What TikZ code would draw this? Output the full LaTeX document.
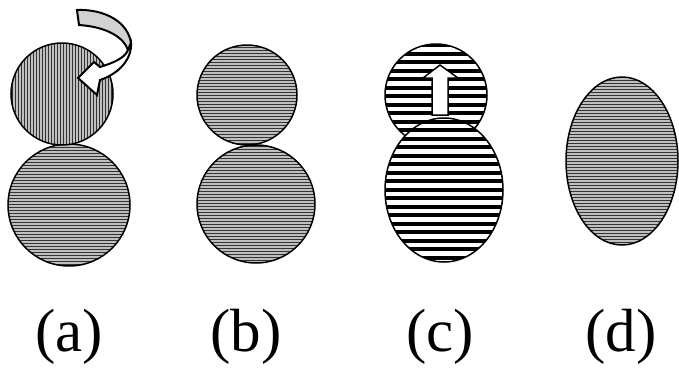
\documentclass[tikz,border=0pt]{standalone}
\usepackage{fontspec}
\setmainfont{Liberation Serif}

\begin{document}
\begin{tikzpicture}[x=1pt,y=-1pt,line width=1.5pt,
  fine/.style={line width=1.2pt,black!80},
  coarse/.style={line width=4.2pt},
  tag/.style={font=\fontsize{61}{70}\selectfont,anchor=base,inner sep=0pt}]
\useasboundingbox (0,0) rectangle (679,367);
% (a) two cells, the upper one turning
\begin{scope}
\clip (69,205) circle[radius=61];
\fill[gray!50] (0,140) rectangle (140,270);
\foreach \y in {141.75,144.75,...,270} \draw[fine] (0,\y) -- (140,\y);
\end{scope}
\draw (69,205) circle[radius=61];
\begin{scope}
\clip (62,94) circle[radius=51];
\fill[gray!50] (5,40) rectangle (120,150);
\foreach \x in {9.75,12.75,...,120} \draw[fine] (\x,40) -- (\x,150);
\end{scope}
\draw (62,94) circle[radius=51];
\draw[fill=gray!35,line width=2pt] (77,10) .. controls (105,9) and (128,22) .. (131,43)
  -- (128,50) .. controls (124,38) and (108,27) .. (79,25) -- cycle;
\draw[fill=white,line join=miter,line width=2pt] (131,43) .. controls (132,60) and (118,74) .. (100,80)
  -- (97,95) -- (78,78) -- (94,62) -- (100,67)
  .. controls (113,63) and (125,58) .. (128,50) -- cycle;
% (b)
\begin{scope}
\clip (256,204) circle[radius=59] (247,95) circle[radius=50];
\fill[gray!50] (190,40) rectangle (320,270);
\foreach \y in {41.75,44.75,...,270} \draw[fine] (190,\y) -- (320,\y);
\end{scope}
\draw (256,204) circle[radius=59];
\draw (247,95) circle[radius=50];
% (c) coarse stripes
\begin{scope}
\clip (436,95) circle[radius=51];
\fill[white] (380,40) rectangle (510,270);
\foreach \y in {45.1,53.6,...,270} \draw[coarse] (380,\y) -- (510,\y);
\end{scope}
\draw (436,95) circle[radius=51];
\begin{scope}
\clip (444,190) ellipse[x radius=59,y radius=72];
\fill[white] (380,40) rectangle (510,270);
\foreach \y in {45.1,53.6,...,270} \draw[coarse] (380,\y) -- (510,\y);
\end{scope}
\draw (444,190) ellipse[x radius=59,y radius=72];
\draw[fill=white,line join=miter] (432,115) -- (432,78) -- (423,78) -- (440,65)
  -- (458,78) -- (448,78) -- (448,115) -- cycle;
% (d)
\begin{scope}
\clip (622,161) ellipse[x radius=56,y radius=84];
\fill[gray!50] (560,70) rectangle (680,250);
\foreach \y in {74.75,77.75,...,250} \draw[fine] (560,\y) -- (680,\y);
\end{scope}
\draw (622,161) ellipse[x radius=56,y radius=84];
% labels
\node[tag] (la) at (69,351) {(a)};
\node[tag] (lb) at (246,351) {(b)};
\node[tag] (lc) at (440,351) {(c)};
\node[tag] (ld) at (621,351) {(d)};
\end{tikzpicture}
\end{document}
